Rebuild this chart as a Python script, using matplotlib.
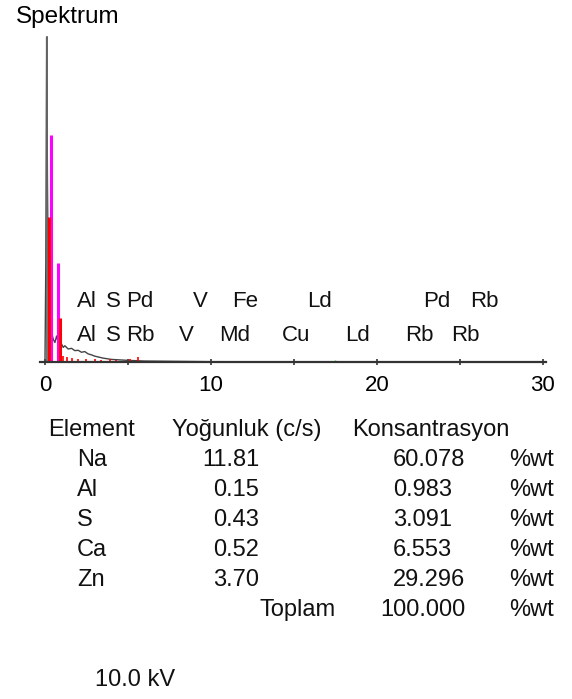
import numpy as np
import matplotlib
matplotlib.use("Agg")
import matplotlib.pyplot as plt

plt.rcParams['font.family'] = ['Liberation Sans', 'DejaVu Sans']

# spectrum trace (keV, counts as % of full scale)
energy = [0.0, 0.05, 0.1, 0.15, 0.2, 0.3, 0.4, 0.5, 0.6, 0.7, 0.8, 0.9, 1.0, 1.1, 1.2,
          1.4, 1.6, 1.8, 2.0, 2.2, 2.4, 2.6, 2.8, 3.0, 3.5, 4.0, 5.0, 6.0, 8.0, 10.0,
          15.0, 20.0, 25.0, 30.0]
counts = [0, 30, 100, 55, 25, 12, 9, 7, 6, 8, 6, 5, 5.5, 4.5, 5,
          4, 4.2, 3.5, 3.6, 3, 3.2, 2.5, 2.2, 1.8, 1.2, 0.8, 0.5, 0.3, 0.2, 0.1,
          0.05, 0, 0, 0]

# fitted peak markers
magenta_x = [0.36, 0.8]
magenta_h = [69.8, 30.5]
red_x = [0.26, 0.92]
red_h = [44.6, 13.5]
# small red markers along the baseline
small_red_x = [1.1, 1.3, 1.6, 2.0, 2.5, 3.0, 3.4, 3.9, 4.3, 5.1, 5.6]
small_red_h = [2.0, 1.5, 1.2, 1.0, 0.8, 0.9, 0.7, 0.8, 0.6, 1.0, 1.5]

# line labels (keV, row)
row1_labels = ["Al", "S", "Pd", "V", "Fe", "Ld", "Pd", "Rb"]
row1_x = [1.93, 3.65, 4.9, 8.9, 11.3, 15.8, 22.8, 25.6]
row2_labels = ["Al", "S", "Rb", "V", "Md", "Cu", "Ld", "Rb", "Rb"]
row2_x = [1.93, 3.65, 4.9, 8.1, 10.5, 14.3, 18.1, 21.7, 24.5]

# results table
elements = ["Na", "Al", "S", "Ca", "Zn"]
intensity = ["11.81", "0.15", "0.43", "0.52", "3.70"]
concentration = ["60.078", "0.983", "3.091", "6.553", "29.296"]
total = "100.000"

W, H = 572, 699
fig = plt.figure(figsize=(W / 100, H / 100), dpi=100)
ax = fig.add_axes([40 / W, 1 - 362 / H, 506 / W, 325 / H])

ax.plot(energy, counts, color='#444444', lw=1.0)
ax.vlines(magenta_x, 0, magenta_h, color='#ff00ff', lw=2.2)
ax.vlines(red_x, 0, red_h, color='#ff0000', lw=2.2)
ax.vlines(small_red_x, 0, small_red_h, color='#ff0000', lw=1.2)
ax.vlines([17.5], 0, [0.6], color='#33cc33', lw=1.0)

for lab, x in zip(row1_labels, row1_x):
    ax.text(x, 18.5, lab, fontsize=16, ha='left', va='center', color='#111111')
for lab, x in zip(row2_labels, row2_x):
    ax.text(x, 8.3, lab, fontsize=16, ha='left', va='center', color='#111111')

ax.set_xlim(-0.3, 30.2)
ax.set_ylim(0, 100)
ax.spines['top'].set_visible(False)
ax.spines['right'].set_visible(False)
ax.spines['left'].set_position(('data', 0.1))
ax.spines['left'].set_color('#666666')
ax.spines['left'].set_linewidth(1.3)
ax.spines['bottom'].set_color('#333333')
ax.spines['bottom'].set_linewidth(1.6)
ax.set_yticks([])
ax.set_xticks([0, 10, 20, 30])
ax.set_xticks([5, 15, 25], minor=True)
ax.tick_params(axis='x', which='both', direction='inout', length=5, width=1.2,
               color='#333333', labelsize=16, pad=7)
ax.patch.set_alpha(0)

fig.text(16 / W, 1 - 17 / H, "Spektrum", fontsize=17.5, ha='left', va='center')

def put(x, y, s, ha='left'):
    fig.text(x / W, 1 - y / H, s, fontsize=17, ha=ha, va='center', color='#111111')

put(48, 430, "Element")
put(172, 430, "Yoğunluk (c/s)")
put(352, 430, "Konsantrasyon")
for i, el in enumerate(elements):
    y = 460 + 30 * i
    put(77, y, el)
    put(259, y, intensity[i], ha='right')
    put(393, y, concentration[i])
    put(509, y, "%wt")
put(259, 610, "Toplam")
put(380, 610, total)
put(509, 610, "%wt")

put(95, 680, "10.0 kV")

fig.savefig("out.png", dpi=100)
